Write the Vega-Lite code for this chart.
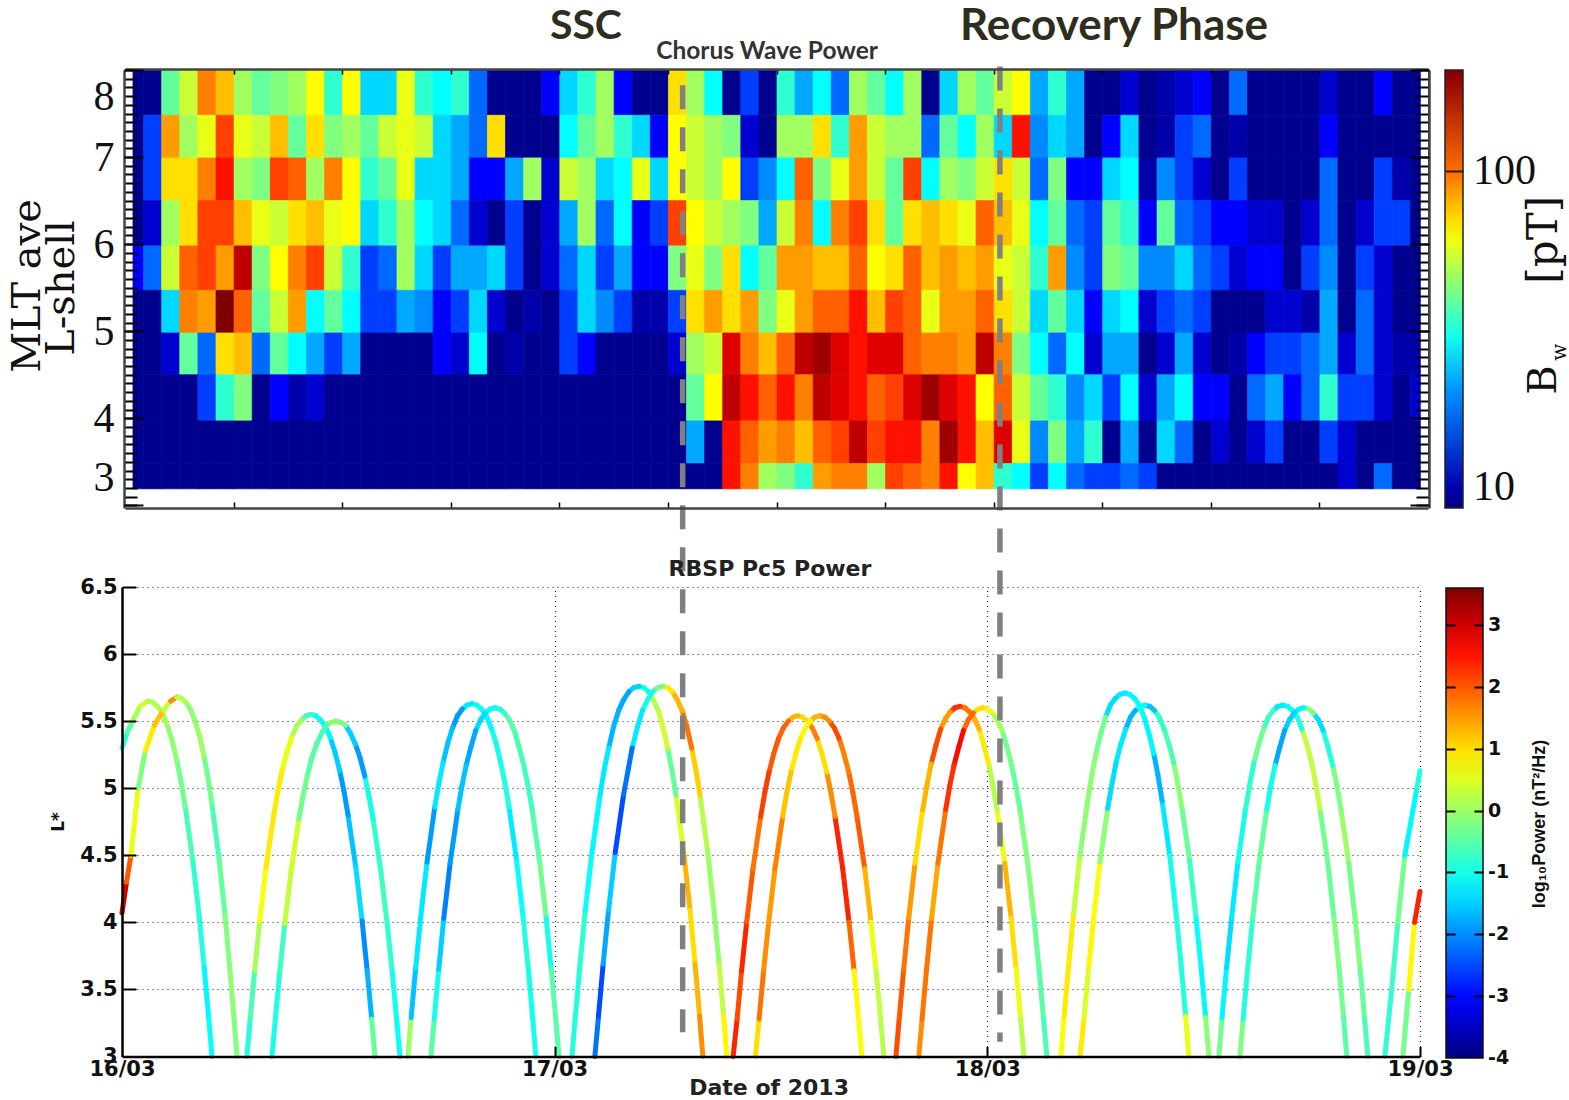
{"$schema":"https://vega.github.io/schema/vega-lite/v6.json","width":1569,"height":1100,"autosize":{"type":"none"},"padding":0,"background":"white",
"config":{"view":{"stroke":null},"axis":{"grid":false,"labels":false,"ticks":false,"domain":false,"tickColor":"#000","domainColor":"#333"}},
"resolve":{"scale":{"x":"independent","y":"independent","color":"independent"},"axis":{"x":"independent","y":"independent"},"legend":{"color":"independent"}},
"datasets":{"cells":[
{"h":0,"L":7.48,"U":8,"b":9},{"h":1,"L":7.48,"U":8,"b":9},{"h":2,"L":7.48,"U":8,"b":38.7},{"h":3,"L":7.48,"U":8,"b":53.6},{"h":4,"L":7.48,"U":8,"b":94.2},{"h":5,"L":7.48,"U":8,"b":77.6},{"h":6,"L":7.48,"U":8,"b":47},{"h":7,"L":7.48,"U":8,"b":38.7},{"h":8,"L":7.48,"U":8,"b":42.4},{"h":9,"L":7.48,"U":8,"b":47},{"h":10,"L":7.48,"U":8,"b":63.2},{"h":11,"L":7.48,"U":8,"b":33},{"h":12,"L":7.48,"U":8,"b":63.2},{"h":13,"L":7.48,"U":8,"b":25.2},{"h":14,"L":7.48,"U":8,"b":25.2},{"h":15,"L":7.48,"U":8,"b":59},{"h":16,"L":7.48,"U":8,"b":33},{"h":17,"L":7.48,"U":8,"b":28.5},{"h":18,"L":7.48,"U":8,"b":33},{"h":19,"L":7.48,"U":8,"b":17.8},{"h":20,"L":7.48,"U":8,"b":9},{"h":21,"L":7.48,"U":8,"b":9},{"h":22,"L":7.48,"U":8,"b":9},{"h":23,"L":7.48,"U":8,"b":12.8},{"h":24,"L":7.48,"U":8,"b":25.2},{"h":25,"L":7.48,"U":8,"b":33},{"h":26,"L":7.48,"U":8,"b":47},{"h":27,"L":7.48,"U":8,"b":12.8},{"h":28,"L":7.48,"U":8,"b":9},{"h":29,"L":7.48,"U":8,"b":9},{"h":30,"L":7.48,"U":8,"b":69.6},{"h":31,"L":7.48,"U":8,"b":47},{"h":32,"L":7.48,"U":8,"b":28.5},{"h":33,"L":7.48,"U":8,"b":9},{"h":34,"L":7.48,"U":8,"b":15.6},{"h":35,"L":7.48,"U":8,"b":9},{"h":36,"L":7.48,"U":8,"b":33},{"h":37,"L":7.48,"U":8,"b":21.7},{"h":38,"L":7.48,"U":8,"b":28.5},{"h":39,"L":7.48,"U":8,"b":17.8},{"h":40,"L":7.48,"U":8,"b":47},{"h":41,"L":7.48,"U":8,"b":38.7},{"h":42,"L":7.48,"U":8,"b":28.5},{"h":43,"L":7.48,"U":8,"b":47},{"h":44,"L":7.48,"U":8,"b":9},{"h":45,"L":7.48,"U":8,"b":25.2},{"h":46,"L":7.48,"U":8,"b":47},{"h":47,"L":7.48,"U":8,"b":38.7},{"h":48,"L":7.48,"U":8,"b":53.6},{"h":49,"L":7.48,"U":8,"b":63.2},{"h":50,"L":7.48,"U":8,"b":21.7},{"h":51,"L":7.48,"U":8,"b":33},{"h":52,"L":7.48,"U":8,"b":21.7},{"h":53,"L":7.48,"U":8,"b":9},{"h":54,"L":7.48,"U":8,"b":9},{"h":55,"L":7.48,"U":8,"b":11},{"h":56,"L":7.48,"U":8,"b":9},{"h":57,"L":7.48,"U":8,"b":9.8},{"h":58,"L":7.48,"U":8,"b":11},{"h":59,"L":7.48,"U":8,"b":12.8},{"h":60,"L":7.48,"U":8,"b":9},{"h":61,"L":7.48,"U":8,"b":17.8},{"h":62,"L":7.48,"U":8,"b":9},{"h":63,"L":7.48,"U":8,"b":9},{"h":64,"L":7.48,"U":8,"b":9},{"h":65,"L":7.48,"U":8,"b":9},{"h":66,"L":7.48,"U":8,"b":11},{"h":67,"L":7.48,"U":8,"b":9},{"h":68,"L":7.48,"U":8,"b":9},{"h":69,"L":7.48,"U":8,"b":12.8},{"h":70,"L":7.48,"U":8,"b":9},{"h":71,"L":7.48,"U":8,"b":9},
{"h":0,"L":6.99,"U":7.48,"b":9},{"h":1,"L":6.99,"U":7.48,"b":15.6},{"h":2,"L":6.99,"U":7.48,"b":86},{"h":3,"L":6.99,"U":7.48,"b":47},{"h":4,"L":6.99,"U":7.48,"b":59},{"h":5,"L":6.99,"U":7.48,"b":115},{"h":6,"L":6.99,"U":7.48,"b":59},{"h":7,"L":6.99,"U":7.48,"b":53.6},{"h":8,"L":6.99,"U":7.48,"b":77.6},{"h":9,"L":6.99,"U":7.48,"b":38.7},{"h":10,"L":6.99,"U":7.48,"b":69.6},{"h":11,"L":6.99,"U":7.48,"b":42.4},{"h":12,"L":6.99,"U":7.48,"b":47},{"h":13,"L":6.99,"U":7.48,"b":38.7},{"h":14,"L":6.99,"U":7.48,"b":53.6},{"h":15,"L":6.99,"U":7.48,"b":59},{"h":16,"L":6.99,"U":7.48,"b":53.6},{"h":17,"L":6.99,"U":7.48,"b":25.2},{"h":18,"L":6.99,"U":7.48,"b":21.7},{"h":19,"L":6.99,"U":7.48,"b":17.8},{"h":20,"L":6.99,"U":7.48,"b":69.6},{"h":21,"L":6.99,"U":7.48,"b":9},{"h":22,"L":6.99,"U":7.48,"b":9},{"h":23,"L":6.99,"U":7.48,"b":9},{"h":24,"L":6.99,"U":7.48,"b":28.5},{"h":25,"L":6.99,"U":7.48,"b":38.7},{"h":26,"L":6.99,"U":7.48,"b":47},{"h":27,"L":6.99,"U":7.48,"b":33},{"h":28,"L":6.99,"U":7.48,"b":25.2},{"h":29,"L":6.99,"U":7.48,"b":12.8},{"h":30,"L":6.99,"U":7.48,"b":63.2},{"h":31,"L":6.99,"U":7.48,"b":53.6},{"h":32,"L":6.99,"U":7.48,"b":47},{"h":33,"L":6.99,"U":7.48,"b":42.4},{"h":34,"L":6.99,"U":7.48,"b":11},{"h":35,"L":6.99,"U":7.48,"b":9},{"h":36,"L":6.99,"U":7.48,"b":47},{"h":37,"L":6.99,"U":7.48,"b":47},{"h":38,"L":6.99,"U":7.48,"b":69.6},{"h":39,"L":6.99,"U":7.48,"b":33},{"h":40,"L":6.99,"U":7.48,"b":86},{"h":41,"L":6.99,"U":7.48,"b":53.6},{"h":42,"L":6.99,"U":7.48,"b":47},{"h":43,"L":6.99,"U":7.48,"b":47},{"h":44,"L":6.99,"U":7.48,"b":17.8},{"h":45,"L":6.99,"U":7.48,"b":38.7},{"h":46,"L":6.99,"U":7.48,"b":28.5},{"h":47,"L":6.99,"U":7.48,"b":47},{"h":48,"L":6.99,"U":7.48,"b":25.2},{"h":49,"L":6.99,"U":7.48,"b":133},{"h":50,"L":6.99,"U":7.48,"b":19.7},{"h":51,"L":6.99,"U":7.48,"b":25.2},{"h":52,"L":6.99,"U":7.48,"b":21.7},{"h":53,"L":6.99,"U":7.48,"b":9},{"h":54,"L":6.99,"U":7.48,"b":12.8},{"h":55,"L":6.99,"U":7.48,"b":25.2},{"h":56,"L":6.99,"U":7.48,"b":9},{"h":57,"L":6.99,"U":7.48,"b":9.8},{"h":58,"L":6.99,"U":7.48,"b":15.6},{"h":59,"L":6.99,"U":7.48,"b":17.8},{"h":60,"L":6.99,"U":7.48,"b":9},{"h":61,"L":6.99,"U":7.48,"b":9.8},{"h":62,"L":6.99,"U":7.48,"b":9},{"h":63,"L":6.99,"U":7.48,"b":9},{"h":64,"L":6.99,"U":7.48,"b":9},{"h":65,"L":6.99,"U":7.48,"b":9},{"h":66,"L":6.99,"U":7.48,"b":12.8},{"h":67,"L":6.99,"U":7.48,"b":9},{"h":68,"L":6.99,"U":7.48,"b":9},{"h":69,"L":6.99,"U":7.48,"b":9},{"h":70,"L":6.99,"U":7.48,"b":9},{"h":71,"L":6.99,"U":7.48,"b":9},
{"h":0,"L":6.5,"U":6.99,"b":9},{"h":1,"L":6.5,"U":6.99,"b":15.6},{"h":2,"L":6.5,"U":6.99,"b":69.6},{"h":3,"L":6.5,"U":6.99,"b":69.6},{"h":4,"L":6.5,"U":6.99,"b":94.2},{"h":5,"L":6.5,"U":6.99,"b":133},{"h":6,"L":6.5,"U":6.99,"b":47},{"h":7,"L":6.5,"U":6.99,"b":42.4},{"h":8,"L":6.5,"U":6.99,"b":115},{"h":9,"L":6.5,"U":6.99,"b":104},{"h":10,"L":6.5,"U":6.99,"b":47},{"h":11,"L":6.5,"U":6.99,"b":94.2},{"h":12,"L":6.5,"U":6.99,"b":63.2},{"h":13,"L":6.5,"U":6.99,"b":33},{"h":14,"L":6.5,"U":6.99,"b":38.7},{"h":15,"L":6.5,"U":6.99,"b":59},{"h":16,"L":6.5,"U":6.99,"b":25.2},{"h":17,"L":6.5,"U":6.99,"b":25.2},{"h":18,"L":6.5,"U":6.99,"b":21.7},{"h":19,"L":6.5,"U":6.99,"b":12.8},{"h":20,"L":6.5,"U":6.99,"b":12.8},{"h":21,"L":6.5,"U":6.99,"b":21.7},{"h":22,"L":6.5,"U":6.99,"b":47},{"h":23,"L":6.5,"U":6.99,"b":11},{"h":24,"L":6.5,"U":6.99,"b":53.6},{"h":25,"L":6.5,"U":6.99,"b":47},{"h":26,"L":6.5,"U":6.99,"b":25.2},{"h":27,"L":6.5,"U":6.99,"b":28.5},{"h":28,"L":6.5,"U":6.99,"b":59},{"h":29,"L":6.5,"U":6.99,"b":25.2},{"h":30,"L":6.5,"U":6.99,"b":63.2},{"h":31,"L":6.5,"U":6.99,"b":53.6},{"h":32,"L":6.5,"U":6.99,"b":47},{"h":33,"L":6.5,"U":6.99,"b":63.2},{"h":34,"L":6.5,"U":6.99,"b":15.6},{"h":35,"L":6.5,"U":6.99,"b":19.7},{"h":36,"L":6.5,"U":6.99,"b":28.5},{"h":37,"L":6.5,"U":6.99,"b":104},{"h":38,"L":6.5,"U":6.99,"b":42.4},{"h":39,"L":6.5,"U":6.99,"b":59},{"h":40,"L":6.5,"U":6.99,"b":86},{"h":41,"L":6.5,"U":6.99,"b":53.6},{"h":42,"L":6.5,"U":6.99,"b":38.7},{"h":43,"L":6.5,"U":6.99,"b":115},{"h":44,"L":6.5,"U":6.99,"b":28.5},{"h":45,"L":6.5,"U":6.99,"b":47},{"h":46,"L":6.5,"U":6.99,"b":42.4},{"h":47,"L":6.5,"U":6.99,"b":53.6},{"h":48,"L":6.5,"U":6.99,"b":69.6},{"h":49,"L":6.5,"U":6.99,"b":53.6},{"h":50,"L":6.5,"U":6.99,"b":17.8},{"h":51,"L":6.5,"U":6.99,"b":42.4},{"h":52,"L":6.5,"U":6.99,"b":12.8},{"h":53,"L":6.5,"U":6.99,"b":12.8},{"h":54,"L":6.5,"U":6.99,"b":25.2},{"h":55,"L":6.5,"U":6.99,"b":28.5},{"h":56,"L":6.5,"U":6.99,"b":9.8},{"h":57,"L":6.5,"U":6.99,"b":19.7},{"h":58,"L":6.5,"U":6.99,"b":15.6},{"h":59,"L":6.5,"U":6.99,"b":11},{"h":60,"L":6.5,"U":6.99,"b":9},{"h":61,"L":6.5,"U":6.99,"b":15.6},{"h":62,"L":6.5,"U":6.99,"b":9},{"h":63,"L":6.5,"U":6.99,"b":9},{"h":64,"L":6.5,"U":6.99,"b":9},{"h":65,"L":6.5,"U":6.99,"b":9},{"h":66,"L":6.5,"U":6.99,"b":17.8},{"h":67,"L":6.5,"U":6.99,"b":9},{"h":68,"L":6.5,"U":6.99,"b":9},{"h":69,"L":6.5,"U":6.99,"b":15.6},{"h":70,"L":6.5,"U":6.99,"b":9.8},{"h":71,"L":6.5,"U":6.99,"b":9},
{"h":0,"L":5.98,"U":6.5,"b":9},{"h":1,"L":5.98,"U":6.5,"b":11},{"h":2,"L":5.98,"U":6.5,"b":47},{"h":3,"L":5.98,"U":6.5,"b":69.6},{"h":4,"L":5.98,"U":6.5,"b":115},{"h":5,"L":5.98,"U":6.5,"b":115},{"h":6,"L":5.98,"U":6.5,"b":77.6},{"h":7,"L":5.98,"U":6.5,"b":59},{"h":8,"L":5.98,"U":6.5,"b":53.6},{"h":9,"L":5.98,"U":6.5,"b":69.6},{"h":10,"L":5.98,"U":6.5,"b":77.6},{"h":11,"L":5.98,"U":6.5,"b":59},{"h":12,"L":5.98,"U":6.5,"b":63.2},{"h":13,"L":5.98,"U":6.5,"b":25.2},{"h":14,"L":5.98,"U":6.5,"b":33},{"h":15,"L":5.98,"U":6.5,"b":47},{"h":16,"L":5.98,"U":6.5,"b":28.5},{"h":17,"L":5.98,"U":6.5,"b":25.2},{"h":18,"L":5.98,"U":6.5,"b":17.8},{"h":19,"L":5.98,"U":6.5,"b":11},{"h":20,"L":5.98,"U":6.5,"b":9},{"h":21,"L":5.98,"U":6.5,"b":15.6},{"h":22,"L":5.98,"U":6.5,"b":9},{"h":23,"L":5.98,"U":6.5,"b":11},{"h":24,"L":5.98,"U":6.5,"b":21.7},{"h":25,"L":5.98,"U":6.5,"b":47},{"h":26,"L":5.98,"U":6.5,"b":17.8},{"h":27,"L":5.98,"U":6.5,"b":28.5},{"h":28,"L":5.98,"U":6.5,"b":12.8},{"h":29,"L":5.98,"U":6.5,"b":15.6},{"h":30,"L":5.98,"U":6.5,"b":115},{"h":31,"L":5.98,"U":6.5,"b":63.2},{"h":32,"L":5.98,"U":6.5,"b":53.6},{"h":33,"L":5.98,"U":6.5,"b":47},{"h":34,"L":5.98,"U":6.5,"b":42.4},{"h":35,"L":5.98,"U":6.5,"b":21.7},{"h":36,"L":5.98,"U":6.5,"b":53.6},{"h":37,"L":5.98,"U":6.5,"b":94.2},{"h":38,"L":5.98,"U":6.5,"b":28.5},{"h":39,"L":5.98,"U":6.5,"b":94.2},{"h":40,"L":5.98,"U":6.5,"b":115},{"h":41,"L":5.98,"U":6.5,"b":69.6},{"h":42,"L":5.98,"U":6.5,"b":38.7},{"h":43,"L":5.98,"U":6.5,"b":69.6},{"h":44,"L":5.98,"U":6.5,"b":77.6},{"h":45,"L":5.98,"U":6.5,"b":69.6},{"h":46,"L":5.98,"U":6.5,"b":59},{"h":47,"L":5.98,"U":6.5,"b":104},{"h":48,"L":5.98,"U":6.5,"b":77.6},{"h":49,"L":5.98,"U":6.5,"b":59},{"h":50,"L":5.98,"U":6.5,"b":28.5},{"h":51,"L":5.98,"U":6.5,"b":38.7},{"h":52,"L":5.98,"U":6.5,"b":17.8},{"h":53,"L":5.98,"U":6.5,"b":15.6},{"h":54,"L":5.98,"U":6.5,"b":38.7},{"h":55,"L":5.98,"U":6.5,"b":33},{"h":56,"L":5.98,"U":6.5,"b":12.8},{"h":57,"L":5.98,"U":6.5,"b":38.7},{"h":58,"L":5.98,"U":6.5,"b":17.8},{"h":59,"L":5.98,"U":6.5,"b":15.6},{"h":60,"L":5.98,"U":6.5,"b":12.8},{"h":61,"L":5.98,"U":6.5,"b":12.8},{"h":62,"L":5.98,"U":6.5,"b":11},{"h":63,"L":5.98,"U":6.5,"b":11},{"h":64,"L":5.98,"U":6.5,"b":9},{"h":65,"L":5.98,"U":6.5,"b":11},{"h":66,"L":5.98,"U":6.5,"b":17.8},{"h":67,"L":5.98,"U":6.5,"b":9},{"h":68,"L":5.98,"U":6.5,"b":11},{"h":69,"L":5.98,"U":6.5,"b":15.6},{"h":70,"L":5.98,"U":6.5,"b":15.6},{"h":71,"L":5.98,"U":6.5,"b":9},
{"h":0,"L":5.47,"U":5.98,"b":12.8},{"h":1,"L":5.47,"U":5.98,"b":17.8},{"h":2,"L":5.47,"U":5.98,"b":53.6},{"h":3,"L":5.47,"U":5.98,"b":104},{"h":4,"L":5.47,"U":5.98,"b":115},{"h":5,"L":5.47,"U":5.98,"b":86},{"h":6,"L":5.47,"U":5.98,"b":172},{"h":7,"L":5.47,"U":5.98,"b":42.4},{"h":8,"L":5.47,"U":5.98,"b":63.2},{"h":9,"L":5.47,"U":5.98,"b":94.2},{"h":10,"L":5.47,"U":5.98,"b":115},{"h":11,"L":5.47,"U":5.98,"b":53.6},{"h":12,"L":5.47,"U":5.98,"b":33},{"h":13,"L":5.47,"U":5.98,"b":15.6},{"h":14,"L":5.47,"U":5.98,"b":17.8},{"h":15,"L":5.47,"U":5.98,"b":47},{"h":16,"L":5.47,"U":5.98,"b":25.2},{"h":17,"L":5.47,"U":5.98,"b":15.6},{"h":18,"L":5.47,"U":5.98,"b":21.7},{"h":19,"L":5.47,"U":5.98,"b":21.7},{"h":20,"L":5.47,"U":5.98,"b":25.2},{"h":21,"L":5.47,"U":5.98,"b":15.6},{"h":22,"L":5.47,"U":5.98,"b":9},{"h":23,"L":5.47,"U":5.98,"b":11},{"h":24,"L":5.47,"U":5.98,"b":17.8},{"h":25,"L":5.47,"U":5.98,"b":25.2},{"h":26,"L":5.47,"U":5.98,"b":15.6},{"h":27,"L":5.47,"U":5.98,"b":21.7},{"h":28,"L":5.47,"U":5.98,"b":12.8},{"h":29,"L":5.47,"U":5.98,"b":12.8},{"h":30,"L":5.47,"U":5.98,"b":42.4},{"h":31,"L":5.47,"U":5.98,"b":59},{"h":32,"L":5.47,"U":5.98,"b":42.4},{"h":33,"L":5.47,"U":5.98,"b":69.6},{"h":34,"L":5.47,"U":5.98,"b":28.5},{"h":35,"L":5.47,"U":5.98,"b":38.7},{"h":36,"L":5.47,"U":5.98,"b":86},{"h":37,"L":5.47,"U":5.98,"b":86},{"h":38,"L":5.47,"U":5.98,"b":77.6},{"h":39,"L":5.47,"U":5.98,"b":77.6},{"h":40,"L":5.47,"U":5.98,"b":104},{"h":41,"L":5.47,"U":5.98,"b":63.2},{"h":42,"L":5.47,"U":5.98,"b":69.6},{"h":43,"L":5.47,"U":5.98,"b":104},{"h":44,"L":5.47,"U":5.98,"b":77.6},{"h":45,"L":5.47,"U":5.98,"b":86},{"h":46,"L":5.47,"U":5.98,"b":77.6},{"h":47,"L":5.47,"U":5.98,"b":86},{"h":48,"L":5.47,"U":5.98,"b":59},{"h":49,"L":5.47,"U":5.98,"b":53.6},{"h":50,"L":5.47,"U":5.98,"b":33},{"h":51,"L":5.47,"U":5.98,"b":86},{"h":52,"L":5.47,"U":5.98,"b":19.7},{"h":53,"L":5.47,"U":5.98,"b":15.6},{"h":54,"L":5.47,"U":5.98,"b":42.4},{"h":55,"L":5.47,"U":5.98,"b":38.7},{"h":56,"L":5.47,"U":5.98,"b":19.7},{"h":57,"L":5.47,"U":5.98,"b":19.7},{"h":58,"L":5.47,"U":5.98,"b":25.2},{"h":59,"L":5.47,"U":5.98,"b":17.8},{"h":60,"L":5.47,"U":5.98,"b":15.6},{"h":61,"L":5.47,"U":5.98,"b":11},{"h":62,"L":5.47,"U":5.98,"b":12.8},{"h":63,"L":5.47,"U":5.98,"b":12.8},{"h":64,"L":5.47,"U":5.98,"b":9},{"h":65,"L":5.47,"U":5.98,"b":15.6},{"h":66,"L":5.47,"U":5.98,"b":19.7},{"h":67,"L":5.47,"U":5.98,"b":9},{"h":68,"L":5.47,"U":5.98,"b":15.6},{"h":69,"L":5.47,"U":5.98,"b":11},{"h":70,"L":5.47,"U":5.98,"b":9},{"h":71,"L":5.47,"U":5.98,"b":9},
{"h":0,"L":4.98,"U":5.47,"b":9},{"h":1,"L":4.98,"U":5.47,"b":9},{"h":2,"L":4.98,"U":5.47,"b":25.2},{"h":3,"L":4.98,"U":5.47,"b":94.2},{"h":4,"L":4.98,"U":5.47,"b":86},{"h":5,"L":4.98,"U":5.47,"b":209},{"h":6,"L":4.98,"U":5.47,"b":104},{"h":7,"L":4.98,"U":5.47,"b":38.7},{"h":8,"L":4.98,"U":5.47,"b":53.6},{"h":9,"L":4.98,"U":5.47,"b":86},{"h":10,"L":4.98,"U":5.47,"b":28.5},{"h":11,"L":4.98,"U":5.47,"b":38.7},{"h":12,"L":4.98,"U":5.47,"b":28.5},{"h":13,"L":4.98,"U":5.47,"b":15.6},{"h":14,"L":4.98,"U":5.47,"b":15.6},{"h":15,"L":4.98,"U":5.47,"b":21.7},{"h":16,"L":4.98,"U":5.47,"b":19.7},{"h":17,"L":4.98,"U":5.47,"b":12.8},{"h":18,"L":4.98,"U":5.47,"b":15.6},{"h":19,"L":4.98,"U":5.47,"b":25.2},{"h":20,"L":4.98,"U":5.47,"b":11},{"h":21,"L":4.98,"U":5.47,"b":9},{"h":22,"L":4.98,"U":5.47,"b":9.8},{"h":23,"L":4.98,"U":5.47,"b":9},{"h":24,"L":4.98,"U":5.47,"b":15.6},{"h":25,"L":4.98,"U":5.47,"b":25.2},{"h":26,"L":4.98,"U":5.47,"b":19.7},{"h":27,"L":4.98,"U":5.47,"b":15.6},{"h":28,"L":4.98,"U":5.47,"b":9.8},{"h":29,"L":4.98,"U":5.47,"b":9.8},{"h":30,"L":4.98,"U":5.47,"b":15.6},{"h":31,"L":4.98,"U":5.47,"b":69.6},{"h":32,"L":4.98,"U":5.47,"b":86},{"h":33,"L":4.98,"U":5.47,"b":69.6},{"h":34,"L":4.98,"U":5.47,"b":86},{"h":35,"L":4.98,"U":5.47,"b":42.4},{"h":36,"L":4.98,"U":5.47,"b":59},{"h":37,"L":4.98,"U":5.47,"b":86},{"h":38,"L":4.98,"U":5.47,"b":104},{"h":39,"L":4.98,"U":5.47,"b":104},{"h":40,"L":4.98,"U":5.47,"b":133},{"h":41,"L":4.98,"U":5.47,"b":77.6},{"h":42,"L":4.98,"U":5.47,"b":115},{"h":43,"L":4.98,"U":5.47,"b":104},{"h":44,"L":4.98,"U":5.47,"b":59},{"h":45,"L":4.98,"U":5.47,"b":86},{"h":46,"L":4.98,"U":5.47,"b":86},{"h":47,"L":4.98,"U":5.47,"b":104},{"h":48,"L":4.98,"U":5.47,"b":69.6},{"h":49,"L":4.98,"U":5.47,"b":53.6},{"h":50,"L":4.98,"U":5.47,"b":25.2},{"h":51,"L":4.98,"U":5.47,"b":38.7},{"h":52,"L":4.98,"U":5.47,"b":25.2},{"h":53,"L":4.98,"U":5.47,"b":12.8},{"h":54,"L":4.98,"U":5.47,"b":25.2},{"h":55,"L":4.98,"U":5.47,"b":28.5},{"h":56,"L":4.98,"U":5.47,"b":11},{"h":57,"L":4.98,"U":5.47,"b":15.6},{"h":58,"L":4.98,"U":5.47,"b":17.8},{"h":59,"L":4.98,"U":5.47,"b":15.6},{"h":60,"L":4.98,"U":5.47,"b":9},{"h":61,"L":4.98,"U":5.47,"b":9},{"h":62,"L":4.98,"U":5.47,"b":9},{"h":63,"L":4.98,"U":5.47,"b":11},{"h":64,"L":4.98,"U":5.47,"b":11},{"h":65,"L":4.98,"U":5.47,"b":9.8},{"h":66,"L":4.98,"U":5.47,"b":21.7},{"h":67,"L":4.98,"U":5.47,"b":9},{"h":68,"L":4.98,"U":5.47,"b":17.8},{"h":69,"L":4.98,"U":5.47,"b":11},{"h":70,"L":4.98,"U":5.47,"b":9},{"h":71,"L":4.98,"U":5.47,"b":9},
{"h":0,"L":4.5,"U":4.98,"b":9},{"h":1,"L":4.5,"U":4.98,"b":9},{"h":2,"L":4.5,"U":4.98,"b":11},{"h":3,"L":4.5,"U":4.98,"b":38.7},{"h":4,"L":4.5,"U":4.98,"b":17.8},{"h":5,"L":4.5,"U":4.98,"b":69.6},{"h":6,"L":4.5,"U":4.98,"b":77.6},{"h":7,"L":4.5,"U":4.98,"b":17.8},{"h":8,"L":4.5,"U":4.98,"b":38.7},{"h":9,"L":4.5,"U":4.98,"b":28.5},{"h":10,"L":4.5,"U":4.98,"b":21.7},{"h":11,"L":4.5,"U":4.98,"b":15.6},{"h":12,"L":4.5,"U":4.98,"b":21.7},{"h":13,"L":4.5,"U":4.98,"b":9},{"h":14,"L":4.5,"U":4.98,"b":9},{"h":15,"L":4.5,"U":4.98,"b":9},{"h":16,"L":4.5,"U":4.98,"b":9},{"h":17,"L":4.5,"U":4.98,"b":12.8},{"h":18,"L":4.5,"U":4.98,"b":11},{"h":19,"L":4.5,"U":4.98,"b":28.5},{"h":20,"L":4.5,"U":4.98,"b":9},{"h":21,"L":4.5,"U":4.98,"b":9.8},{"h":22,"L":4.5,"U":4.98,"b":9},{"h":23,"L":4.5,"U":4.98,"b":9},{"h":24,"L":4.5,"U":4.98,"b":15.6},{"h":25,"L":4.5,"U":4.98,"b":12.8},{"h":26,"L":4.5,"U":4.98,"b":9},{"h":27,"L":4.5,"U":4.98,"b":9},{"h":28,"L":4.5,"U":4.98,"b":9},{"h":29,"L":4.5,"U":4.98,"b":9},{"h":30,"L":4.5,"U":4.98,"b":11},{"h":31,"L":4.5,"U":4.98,"b":47},{"h":32,"L":4.5,"U":4.98,"b":53.6},{"h":33,"L":4.5,"U":4.98,"b":155},{"h":34,"L":4.5,"U":4.98,"b":94.2},{"h":35,"L":4.5,"U":4.98,"b":77.6},{"h":36,"L":4.5,"U":4.98,"b":104},{"h":37,"L":4.5,"U":4.98,"b":172},{"h":38,"L":4.5,"U":4.98,"b":190},{"h":39,"L":4.5,"U":4.98,"b":155},{"h":40,"L":4.5,"U":4.98,"b":133},{"h":41,"L":4.5,"U":4.98,"b":155},{"h":42,"L":4.5,"U":4.98,"b":155},{"h":43,"L":4.5,"U":4.98,"b":104},{"h":44,"L":4.5,"U":4.98,"b":94.2},{"h":45,"L":4.5,"U":4.98,"b":94.2},{"h":46,"L":4.5,"U":4.98,"b":86},{"h":47,"L":4.5,"U":4.98,"b":172},{"h":48,"L":4.5,"U":4.98,"b":94.2},{"h":49,"L":4.5,"U":4.98,"b":42.4},{"h":50,"L":4.5,"U":4.98,"b":28.5},{"h":51,"L":4.5,"U":4.98,"b":17.8},{"h":52,"L":4.5,"U":4.98,"b":28.5},{"h":53,"L":4.5,"U":4.98,"b":11},{"h":54,"L":4.5,"U":4.98,"b":21.7},{"h":55,"L":4.5,"U":4.98,"b":21.7},{"h":56,"L":4.5,"U":4.98,"b":9},{"h":57,"L":4.5,"U":4.98,"b":11},{"h":58,"L":4.5,"U":4.98,"b":21.7},{"h":59,"L":4.5,"U":4.98,"b":11},{"h":60,"L":4.5,"U":4.98,"b":9},{"h":61,"L":4.5,"U":4.98,"b":9.8},{"h":62,"L":4.5,"U":4.98,"b":12.8},{"h":63,"L":4.5,"U":4.98,"b":15.6},{"h":64,"L":4.5,"U":4.98,"b":15.6},{"h":65,"L":4.5,"U":4.98,"b":17.8},{"h":66,"L":4.5,"U":4.98,"b":21.7},{"h":67,"L":4.5,"U":4.98,"b":11},{"h":68,"L":4.5,"U":4.98,"b":17.8},{"h":69,"L":4.5,"U":4.98,"b":11},{"h":70,"L":4.5,"U":4.98,"b":9.8},{"h":71,"L":4.5,"U":4.98,"b":9.8},
{"h":0,"L":3.97,"U":4.5,"b":9},{"h":1,"L":3.97,"U":4.5,"b":9},{"h":2,"L":3.97,"U":4.5,"b":9},{"h":3,"L":3.97,"U":4.5,"b":9},{"h":4,"L":3.97,"U":4.5,"b":15.6},{"h":5,"L":3.97,"U":4.5,"b":33},{"h":6,"L":3.97,"U":4.5,"b":42.4},{"h":7,"L":3.97,"U":4.5,"b":9},{"h":8,"L":3.97,"U":4.5,"b":12.8},{"h":9,"L":3.97,"U":4.5,"b":9.8},{"h":10,"L":3.97,"U":4.5,"b":11},{"h":11,"L":3.97,"U":4.5,"b":9},{"h":12,"L":3.97,"U":4.5,"b":9},{"h":13,"L":3.97,"U":4.5,"b":9},{"h":14,"L":3.97,"U":4.5,"b":9},{"h":15,"L":3.97,"U":4.5,"b":9},{"h":16,"L":3.97,"U":4.5,"b":9},{"h":17,"L":3.97,"U":4.5,"b":9},{"h":18,"L":3.97,"U":4.5,"b":9},{"h":19,"L":3.97,"U":4.5,"b":9},{"h":20,"L":3.97,"U":4.5,"b":9},{"h":21,"L":3.97,"U":4.5,"b":9},{"h":22,"L":3.97,"U":4.5,"b":9},{"h":23,"L":3.97,"U":4.5,"b":9},{"h":24,"L":3.97,"U":4.5,"b":9},{"h":25,"L":3.97,"U":4.5,"b":9},{"h":26,"L":3.97,"U":4.5,"b":9},{"h":27,"L":3.97,"U":4.5,"b":9},{"h":28,"L":3.97,"U":4.5,"b":9},{"h":29,"L":3.97,"U":4.5,"b":9},{"h":30,"L":3.97,"U":4.5,"b":9},{"h":31,"L":3.97,"U":4.5,"b":38.7},{"h":32,"L":3.97,"U":4.5,"b":63.2},{"h":33,"L":3.97,"U":4.5,"b":172},{"h":34,"L":3.97,"U":4.5,"b":133},{"h":35,"L":3.97,"U":4.5,"b":104},{"h":36,"L":3.97,"U":4.5,"b":133},{"h":37,"L":3.97,"U":4.5,"b":94.2},{"h":38,"L":3.97,"U":4.5,"b":172},{"h":39,"L":3.97,"U":4.5,"b":155},{"h":40,"L":3.97,"U":4.5,"b":133},{"h":41,"L":3.97,"U":4.5,"b":104},{"h":42,"L":3.97,"U":4.5,"b":115},{"h":43,"L":3.97,"U":4.5,"b":155},{"h":44,"L":3.97,"U":4.5,"b":190},{"h":45,"L":3.97,"U":4.5,"b":155},{"h":46,"L":3.97,"U":4.5,"b":133},{"h":47,"L":3.97,"U":4.5,"b":63.2},{"h":48,"L":3.97,"U":4.5,"b":104},{"h":49,"L":3.97,"U":4.5,"b":53.6},{"h":50,"L":3.97,"U":4.5,"b":38.7},{"h":51,"L":3.97,"U":4.5,"b":33},{"h":52,"L":3.97,"U":4.5,"b":19.7},{"h":53,"L":3.97,"U":4.5,"b":25.2},{"h":54,"L":3.97,"U":4.5,"b":15.6},{"h":55,"L":3.97,"U":4.5,"b":28.5},{"h":56,"L":3.97,"U":4.5,"b":11},{"h":57,"L":3.97,"U":4.5,"b":21.7},{"h":58,"L":3.97,"U":4.5,"b":28.5},{"h":59,"L":3.97,"U":4.5,"b":12.8},{"h":60,"L":3.97,"U":4.5,"b":12.8},{"h":61,"L":3.97,"U":4.5,"b":9},{"h":62,"L":3.97,"U":4.5,"b":17.8},{"h":63,"L":3.97,"U":4.5,"b":21.7},{"h":64,"L":3.97,"U":4.5,"b":12.8},{"h":65,"L":3.97,"U":4.5,"b":17.8},{"h":66,"L":3.97,"U":4.5,"b":33},{"h":67,"L":3.97,"U":4.5,"b":15.6},{"h":68,"L":3.97,"U":4.5,"b":15.6},{"h":69,"L":3.97,"U":4.5,"b":11},{"h":70,"L":3.97,"U":4.5,"b":9},{"h":71,"L":3.97,"U":4.5,"b":11},
{"h":0,"L":3.48,"U":3.97,"b":9},{"h":1,"L":3.48,"U":3.97,"b":9},{"h":2,"L":3.48,"U":3.97,"b":9},{"h":3,"L":3.48,"U":3.97,"b":9},{"h":4,"L":3.48,"U":3.97,"b":9},{"h":5,"L":3.48,"U":3.97,"b":9},{"h":6,"L":3.48,"U":3.97,"b":9},{"h":7,"L":3.48,"U":3.97,"b":9},{"h":8,"L":3.48,"U":3.97,"b":9},{"h":9,"L":3.48,"U":3.97,"b":9},{"h":10,"L":3.48,"U":3.97,"b":9},{"h":11,"L":3.48,"U":3.97,"b":9},{"h":12,"L":3.48,"U":3.97,"b":9},{"h":13,"L":3.48,"U":3.97,"b":9},{"h":14,"L":3.48,"U":3.97,"b":9},{"h":15,"L":3.48,"U":3.97,"b":9},{"h":16,"L":3.48,"U":3.97,"b":9},{"h":17,"L":3.48,"U":3.97,"b":9},{"h":18,"L":3.48,"U":3.97,"b":9},{"h":19,"L":3.48,"U":3.97,"b":9},{"h":20,"L":3.48,"U":3.97,"b":9},{"h":21,"L":3.48,"U":3.97,"b":9},{"h":22,"L":3.48,"U":3.97,"b":9},{"h":23,"L":3.48,"U":3.97,"b":9},{"h":24,"L":3.48,"U":3.97,"b":9},{"h":25,"L":3.48,"U":3.97,"b":9},{"h":26,"L":3.48,"U":3.97,"b":9},{"h":27,"L":3.48,"U":3.97,"b":9},{"h":28,"L":3.48,"U":3.97,"b":9},{"h":29,"L":3.48,"U":3.97,"b":9},{"h":30,"L":3.48,"U":3.97,"b":9},{"h":31,"L":3.48,"U":3.97,"b":21.7},{"h":32,"L":3.48,"U":3.97,"b":9},{"h":33,"L":3.48,"U":3.97,"b":133},{"h":34,"L":3.48,"U":3.97,"b":104},{"h":35,"L":3.48,"U":3.97,"b":86},{"h":36,"L":3.48,"U":3.97,"b":94.2},{"h":37,"L":3.48,"U":3.97,"b":77.6},{"h":38,"L":3.48,"U":3.97,"b":104},{"h":39,"L":3.48,"U":3.97,"b":115},{"h":40,"L":3.48,"U":3.97,"b":172},{"h":41,"L":3.48,"U":3.97,"b":115},{"h":42,"L":3.48,"U":3.97,"b":133},{"h":43,"L":3.48,"U":3.97,"b":133},{"h":44,"L":3.48,"U":3.97,"b":94.2},{"h":45,"L":3.48,"U":3.97,"b":190},{"h":46,"L":3.48,"U":3.97,"b":133},{"h":47,"L":3.48,"U":3.97,"b":77.6},{"h":48,"L":3.48,"U":3.97,"b":155},{"h":49,"L":3.48,"U":3.97,"b":59},{"h":50,"L":3.48,"U":3.97,"b":19.7},{"h":51,"L":3.48,"U":3.97,"b":42.4},{"h":52,"L":3.48,"U":3.97,"b":21.7},{"h":53,"L":3.48,"U":3.97,"b":33},{"h":54,"L":3.48,"U":3.97,"b":9},{"h":55,"L":3.48,"U":3.97,"b":21.7},{"h":56,"L":3.48,"U":3.97,"b":9},{"h":57,"L":3.48,"U":3.97,"b":25.2},{"h":58,"L":3.48,"U":3.97,"b":17.8},{"h":59,"L":3.48,"U":3.97,"b":9},{"h":60,"L":3.48,"U":3.97,"b":11},{"h":61,"L":3.48,"U":3.97,"b":9},{"h":62,"L":3.48,"U":3.97,"b":11},{"h":63,"L":3.48,"U":3.97,"b":15.6},{"h":64,"L":3.48,"U":3.97,"b":9},{"h":65,"L":3.48,"U":3.97,"b":9},{"h":66,"L":3.48,"U":3.97,"b":15.6},{"h":67,"L":3.48,"U":3.97,"b":11},{"h":68,"L":3.48,"U":3.97,"b":9},{"h":69,"L":3.48,"U":3.97,"b":9},{"h":70,"L":3.48,"U":3.97,"b":9},{"h":71,"L":3.48,"U":3.97,"b":9},
{"h":0,"L":3.19,"U":3.48,"b":9},{"h":1,"L":3.19,"U":3.48,"b":9},{"h":2,"L":3.19,"U":3.48,"b":9},{"h":3,"L":3.19,"U":3.48,"b":9},{"h":4,"L":3.19,"U":3.48,"b":9},{"h":5,"L":3.19,"U":3.48,"b":9},{"h":6,"L":3.19,"U":3.48,"b":9},{"h":7,"L":3.19,"U":3.48,"b":9},{"h":8,"L":3.19,"U":3.48,"b":9},{"h":9,"L":3.19,"U":3.48,"b":9},{"h":10,"L":3.19,"U":3.48,"b":9},{"h":11,"L":3.19,"U":3.48,"b":9},{"h":12,"L":3.19,"U":3.48,"b":9},{"h":13,"L":3.19,"U":3.48,"b":9},{"h":14,"L":3.19,"U":3.48,"b":9},{"h":15,"L":3.19,"U":3.48,"b":9},{"h":16,"L":3.19,"U":3.48,"b":9},{"h":17,"L":3.19,"U":3.48,"b":9},{"h":18,"L":3.19,"U":3.48,"b":9},{"h":19,"L":3.19,"U":3.48,"b":9},{"h":20,"L":3.19,"U":3.48,"b":9},{"h":21,"L":3.19,"U":3.48,"b":9},{"h":22,"L":3.19,"U":3.48,"b":9},{"h":23,"L":3.19,"U":3.48,"b":9},{"h":24,"L":3.19,"U":3.48,"b":9},{"h":25,"L":3.19,"U":3.48,"b":9},{"h":26,"L":3.19,"U":3.48,"b":9},{"h":27,"L":3.19,"U":3.48,"b":9},{"h":28,"L":3.19,"U":3.48,"b":9},{"h":29,"L":3.19,"U":3.48,"b":9},{"h":30,"L":3.19,"U":3.48,"b":9},{"h":31,"L":3.19,"U":3.48,"b":9},{"h":32,"L":3.19,"U":3.48,"b":9},{"h":33,"L":3.19,"U":3.48,"b":133},{"h":34,"L":3.19,"U":3.48,"b":94.2},{"h":35,"L":3.19,"U":3.48,"b":47},{"h":36,"L":3.19,"U":3.48,"b":42.4},{"h":37,"L":3.19,"U":3.48,"b":33},{"h":38,"L":3.19,"U":3.48,"b":86},{"h":39,"L":3.19,"U":3.48,"b":94.2},{"h":40,"L":3.19,"U":3.48,"b":94.2},{"h":41,"L":3.19,"U":3.48,"b":47},{"h":42,"L":3.19,"U":3.48,"b":115},{"h":43,"L":3.19,"U":3.48,"b":104},{"h":44,"L":3.19,"U":3.48,"b":94.2},{"h":45,"L":3.19,"U":3.48,"b":133},{"h":46,"L":3.19,"U":3.48,"b":63.2},{"h":47,"L":3.19,"U":3.48,"b":77.6},{"h":48,"L":3.19,"U":3.48,"b":33},{"h":49,"L":3.19,"U":3.48,"b":28.5},{"h":50,"L":3.19,"U":3.48,"b":15.6},{"h":51,"L":3.19,"U":3.48,"b":28.5},{"h":52,"L":3.19,"U":3.48,"b":17.8},{"h":53,"L":3.19,"U":3.48,"b":15.6},{"h":54,"L":3.19,"U":3.48,"b":15.6},{"h":55,"L":3.19,"U":3.48,"b":17.8},{"h":56,"L":3.19,"U":3.48,"b":15.6},{"h":57,"L":3.19,"U":3.48,"b":9},{"h":58,"L":3.19,"U":3.48,"b":9},{"h":59,"L":3.19,"U":3.48,"b":9},{"h":60,"L":3.19,"U":3.48,"b":9},{"h":61,"L":3.19,"U":3.48,"b":9},{"h":62,"L":3.19,"U":3.48,"b":9},{"h":63,"L":3.19,"U":3.48,"b":9},{"h":64,"L":3.19,"U":3.48,"b":9},{"h":65,"L":3.19,"U":3.48,"b":9},{"h":66,"L":3.19,"U":3.48,"b":9},{"h":67,"L":3.19,"U":3.48,"b":11},{"h":68,"L":3.19,"U":3.48,"b":9},{"h":69,"L":3.19,"U":3.48,"b":17.8},{"h":70,"L":3.19,"U":3.48,"b":9},{"h":71,"L":3.19,"U":3.48,"b":9}
],
"arcs":[
{"a":"A1","t":0,"L":5.3,"p":-0.8},{"a":"A1","t":0.3,"L":5.42,"p":-0.5},{"a":"A1","t":0.6,"L":5.5,"p":0.1},{"a":"A1","t":1,"L":5.61,"p":0.4},{"a":"A1","t":1.44,"L":5.65,"p":0.2},{"a":"A1","t":1.97,"L":5.61,"p":0.1},{"a":"A1","t":2.51,"L":5.47,"p":-0.1},{"a":"A1","t":3.04,"L":5.21,"p":-0.3},{"a":"A1","t":3.5,"L":4.87,"p":-0.6},{"a":"A1","t":3.93,"L":4.46,"p":-0.8},{"a":"A1","t":4.28,"L":4.05,"p":-0.9},{"a":"A1","t":4.56,"L":3.66,"p":-1.2},{"a":"A1","t":4.81,"L":3.29,"p":-1.1},{"a":"A1","t":4.99,"L":3,"p":-1.1},{"a":"A1","t":1.71,"L":5.64,"p":0.2},{"a":"A1","t":2.24,"L":5.56,"p":0.1},{"a":"A1","t":2.77,"L":5.36,"p":-0.1},{"a":"A1","t":3.27,"L":5.05,"p":-0.3},
{"a":"B1","t":0,"L":4.07,"p":3},{"a":"B1","t":0.25,"L":4.3,"p":2},{"a":"B1","t":0.5,"L":4.5,"p":0.6},{"a":"B1","t":0.9,"L":5,"p":-0.2},{"a":"B1","t":1.3,"L":5.28,"p":0.9},{"a":"B1","t":1.8,"L":5.47,"p":1.2},{"a":"B1","t":2.3,"L":5.58,"p":0.3},{"a":"B1","t":2.7,"L":5.65,"p":1.6},{"a":"B1","t":3.05,"L":5.68,"p":0.2},{"a":"B1","t":3.55,"L":5.64,"p":-0.1},{"a":"B1","t":4.05,"L":5.5,"p":0},{"a":"B1","t":4.55,"L":5.24,"p":-0.3},{"a":"B1","t":4.98,"L":4.89,"p":-0.6},{"a":"B1","t":5.38,"L":4.48,"p":-0.4},{"a":"B1","t":5.71,"L":4.06,"p":-0.2},{"a":"B1","t":5.97,"L":3.67,"p":-0.1},{"a":"B1","t":6.21,"L":3.29,"p":-0.2},{"a":"B1","t":6.38,"L":3,"p":-0.2},{"a":"B1","t":3.3,"L":5.67,"p":0.2},{"a":"B1","t":3.8,"L":5.59,"p":-0.1},{"a":"B1","t":4.3,"L":5.39,"p":0},{"a":"B1","t":4.77,"L":5.08,"p":-0.3},
{"a":"A2","t":6.93,"L":3,"p":-0.9},{"a":"A2","t":7.11,"L":3.28,"p":-0.6},{"a":"A2","t":7.36,"L":3.64,"p":0.1},{"a":"A2","t":7.64,"L":4.01,"p":0.7},{"a":"A2","t":7.99,"L":4.41,"p":0.9},{"a":"A2","t":8.42,"L":4.8,"p":0.9},{"a":"A2","t":8.88,"L":5.13,"p":0.6},{"a":"A2","t":9.41,"L":5.38,"p":0.1},{"a":"A2","t":9.95,"L":5.51,"p":-0.6},{"a":"A2","t":10.48,"L":5.55,"p":-1.1},{"a":"A2","t":11.01,"L":5.51,"p":-1.2},{"a":"A2","t":11.55,"L":5.38,"p":-1.5},{"a":"A2","t":12.08,"L":5.13,"p":-1.9},{"a":"A2","t":12.54,"L":4.8,"p":-1.6},{"a":"A2","t":12.97,"L":4.41,"p":-1.4},{"a":"A2","t":13.32,"L":4.01,"p":-2},{"a":"A2","t":13.6,"L":3.64,"p":-1.7},{"a":"A2","t":13.85,"L":3.28,"p":-0.4},{"a":"A2","t":14.03,"L":3,"p":-0.4},{"a":"A2","t":8.65,"L":4.98,"p":0.9},{"a":"A2","t":9.15,"L":5.27,"p":0.6},{"a":"A2","t":9.68,"L":5.46,"p":0.1},{"a":"A2","t":10.21,"L":5.54,"p":-0.6},{"a":"A2","t":10.75,"L":5.54,"p":-1.1},{"a":"A2","t":11.28,"L":5.46,"p":-1.2},{"a":"A2","t":11.81,"L":5.27,"p":-1.5},{"a":"A2","t":12.31,"L":4.98,"p":-1.9},
{"a":"B2","t":8.32,"L":3,"p":-1},{"a":"B2","t":8.5,"L":3.27,"p":-0.9},{"a":"B2","t":8.75,"L":3.63,"p":-0.7},{"a":"B2","t":9.03,"L":3.99,"p":0.3},{"a":"B2","t":9.38,"L":4.38,"p":0.4},{"a":"B2","t":9.81,"L":4.77,"p":-0.3},{"a":"B2","t":10.27,"L":5.09,"p":-0.5},{"a":"B2","t":10.8,"L":5.33,"p":-0.6},{"a":"B2","t":11.34,"L":5.47,"p":-0.1},{"a":"B2","t":11.87,"L":5.5,"p":-0.2},{"a":"B2","t":12.4,"L":5.47,"p":-1.5},{"a":"B2","t":12.94,"L":5.33,"p":-1.9},{"a":"B2","t":13.47,"L":5.09,"p":-1},{"a":"B2","t":13.93,"L":4.77,"p":-0.8},{"a":"B2","t":14.36,"L":4.38,"p":-0.7},{"a":"B2","t":14.71,"L":3.99,"p":-0.8},{"a":"B2","t":14.99,"L":3.63,"p":-1},{"a":"B2","t":15.24,"L":3.27,"p":-1.1},{"a":"B2","t":15.42,"L":3,"p":-1.1},{"a":"B2","t":10.04,"L":4.94,"p":-0.3},{"a":"B2","t":10.54,"L":5.23,"p":-0.5},{"a":"B2","t":11.07,"L":5.41,"p":-0.6},{"a":"B2","t":11.6,"L":5.49,"p":-0.1},{"a":"B2","t":12.14,"L":5.49,"p":-0.2},{"a":"B2","t":12.67,"L":5.41,"p":-1.5},{"a":"B2","t":13.2,"L":5.23,"p":-1.9},{"a":"B2","t":13.7,"L":4.94,"p":-1},
{"a":"A3","t":15.86,"L":3,"p":0},{"a":"A3","t":16.04,"L":3.29,"p":-1.6},{"a":"A3","t":16.29,"L":3.66,"p":-1.3},{"a":"A3","t":16.57,"L":4.04,"p":-1.3},{"a":"A3","t":16.92,"L":4.45,"p":-1.9},{"a":"A3","t":17.35,"L":4.86,"p":-1.3},{"a":"A3","t":17.81,"L":5.19,"p":-1.6},{"a":"A3","t":18.34,"L":5.45,"p":-1.9},{"a":"A3","t":18.88,"L":5.59,"p":-1.3},{"a":"A3","t":19.41,"L":5.63,"p":-1.1},{"a":"A3","t":19.94,"L":5.59,"p":-1.2},{"a":"A3","t":20.48,"L":5.45,"p":-1},{"a":"A3","t":21.01,"L":5.19,"p":-0.9},{"a":"A3","t":21.47,"L":4.86,"p":-1.3},{"a":"A3","t":21.9,"L":4.45,"p":-1.1},{"a":"A3","t":22.25,"L":4.04,"p":-0.9},{"a":"A3","t":22.53,"L":3.66,"p":-1},{"a":"A3","t":22.78,"L":3.29,"p":-1},{"a":"A3","t":22.96,"L":3,"p":-1},{"a":"A3","t":17.58,"L":5.04,"p":-1.3},{"a":"A3","t":18.08,"L":5.34,"p":-1.6},{"a":"A3","t":18.61,"L":5.54,"p":-1.9},{"a":"A3","t":19.14,"L":5.62,"p":-1.3},{"a":"A3","t":19.68,"L":5.62,"p":-1.1},{"a":"A3","t":20.21,"L":5.54,"p":-1.2},{"a":"A3","t":20.74,"L":5.34,"p":-1},{"a":"A3","t":21.24,"L":5.04,"p":-0.9},
{"a":"B3","t":17.14,"L":3,"p":-0.5},{"a":"B3","t":17.32,"L":3.28,"p":-1},{"a":"B3","t":17.57,"L":3.65,"p":-1.5},{"a":"B3","t":17.85,"L":4.03,"p":-2.1},{"a":"B3","t":18.2,"L":4.44,"p":-1.9},{"a":"B3","t":18.63,"L":4.84,"p":-1.6},{"a":"B3","t":19.09,"L":5.17,"p":-1.8},{"a":"B3","t":19.62,"L":5.43,"p":-1.4},{"a":"B3","t":20.16,"L":5.56,"p":-1.1},{"a":"B3","t":20.69,"L":5.6,"p":-0.9},{"a":"B3","t":21.22,"L":5.56,"p":-0.5},{"a":"B3","t":21.76,"L":5.43,"p":-0.6},{"a":"B3","t":22.29,"L":5.17,"p":-0.7},{"a":"B3","t":22.75,"L":4.84,"p":-0.5},{"a":"B3","t":23.18,"L":4.44,"p":-0.3},{"a":"B3","t":23.53,"L":4.03,"p":-1},{"a":"B3","t":23.81,"L":3.65,"p":-0.5},{"a":"B3","t":24.06,"L":3.28,"p":-0.5},{"a":"B3","t":24.24,"L":3,"p":-0.5},{"a":"B3","t":18.86,"L":5.02,"p":-1.6},{"a":"B3","t":19.36,"L":5.31,"p":-1.8},{"a":"B3","t":19.89,"L":5.51,"p":-1.4},{"a":"B3","t":20.42,"L":5.59,"p":-1.1},{"a":"B3","t":20.96,"L":5.59,"p":-0.9},{"a":"B3","t":21.49,"L":5.51,"p":-0.5},{"a":"B3","t":22.02,"L":5.31,"p":-0.6},{"a":"B3","t":22.52,"L":5.02,"p":-0.7},
{"a":"A4","t":24.96,"L":3,"p":-0.9},{"a":"A4","t":25.15,"L":3.3,"p":-0.9},{"a":"A4","t":25.41,"L":3.69,"p":-0.8},{"a":"A4","t":25.7,"L":4.09,"p":-1.1},{"a":"A4","t":26.07,"L":4.52,"p":-1.2},{"a":"A4","t":26.52,"L":4.95,"p":-1.3},{"a":"A4","t":27,"L":5.3,"p":-1.7},{"a":"A4","t":27.55,"L":5.58,"p":-1.8},{"a":"A4","t":28.12,"L":5.72,"p":-1.5},{"a":"A4","t":28.67,"L":5.76,"p":-1},{"a":"A4","t":29.2,"L":5.72,"p":0.2},{"a":"A4","t":29.74,"L":5.58,"p":0.4},{"a":"A4","t":30.27,"L":5.3,"p":-0.4},{"a":"A4","t":30.73,"L":4.95,"p":0.5},{"a":"A4","t":31.16,"L":4.52,"p":1.3},{"a":"A4","t":31.51,"L":4.09,"p":1},{"a":"A4","t":31.79,"L":3.69,"p":1.3},{"a":"A4","t":32.04,"L":3.3,"p":1.6},{"a":"A4","t":32.22,"L":3,"p":1.6},{"a":"A4","t":26.75,"L":5.14,"p":-1.3},{"a":"A4","t":27.27,"L":5.46,"p":-1.7},{"a":"A4","t":27.83,"L":5.66,"p":-1.8},{"a":"A4","t":28.39,"L":5.75,"p":-1.5},{"a":"A4","t":28.94,"L":5.75,"p":-1},{"a":"A4","t":29.47,"L":5.66,"p":0.2},{"a":"A4","t":30,"L":5.46,"p":0.4},{"a":"A4","t":30.5,"L":5.14,"p":-0.4},
{"a":"B4","t":26.23,"L":3,"p":-2.2},{"a":"B4","t":26.43,"L":3.3,"p":-2.5},{"a":"B4","t":26.69,"L":3.69,"p":-1.8},{"a":"B4","t":26.99,"L":4.09,"p":-1.5},{"a":"B4","t":27.36,"L":4.52,"p":-2.5},{"a":"B4","t":27.82,"L":4.95,"p":-2.2},{"a":"B4","t":28.3,"L":5.3,"p":-1.3},{"a":"B4","t":28.87,"L":5.58,"p":-1},{"a":"B4","t":29.44,"L":5.72,"p":-0.3},{"a":"B4","t":30,"L":5.76,"p":0.9},{"a":"B4","t":30.53,"L":5.72,"p":1.3},{"a":"B4","t":31.07,"L":5.58,"p":1.8},{"a":"B4","t":31.6,"L":5.3,"p":1.1},{"a":"B4","t":32.06,"L":4.95,"p":0.2},{"a":"B4","t":32.49,"L":4.52,"p":0},{"a":"B4","t":32.84,"L":4.09,"p":-0.1},{"a":"B4","t":33.12,"L":3.69,"p":0.3},{"a":"B4","t":33.37,"L":3.3,"p":0.8},{"a":"B4","t":33.55,"L":3,"p":0.8},{"a":"B4","t":28.08,"L":5.14,"p":-2.2},{"a":"B4","t":28.6,"L":5.46,"p":-1.3},{"a":"B4","t":29.16,"L":5.66,"p":-1},{"a":"B4","t":29.72,"L":5.75,"p":-0.3},{"a":"B4","t":30.27,"L":5.75,"p":0.9},{"a":"B4","t":30.8,"L":5.66,"p":1.3},{"a":"B4","t":31.33,"L":5.46,"p":1.8},{"a":"B4","t":31.83,"L":5.14,"p":1.1},
{"a":"A5","t":33.9,"L":3,"p":2.4},{"a":"A5","t":34.12,"L":3.28,"p":2.1},{"a":"A5","t":34.37,"L":3.64,"p":2.4},{"a":"A5","t":34.65,"L":4,"p":2},{"a":"A5","t":35,"L":4.4,"p":1.8},{"a":"A5","t":35.43,"L":4.79,"p":2.2},{"a":"A5","t":35.89,"L":5.12,"p":2},{"a":"A5","t":36.42,"L":5.37,"p":1.9},{"a":"A5","t":36.96,"L":5.5,"p":1.3},{"a":"A5","t":37.49,"L":5.54,"p":1},{"a":"A5","t":38.02,"L":5.5,"p":1.7},{"a":"A5","t":38.56,"L":5.37,"p":1},{"a":"A5","t":39.09,"L":5.12,"p":1.6},{"a":"A5","t":39.55,"L":4.79,"p":2.4},{"a":"A5","t":39.98,"L":4.4,"p":2.4},{"a":"A5","t":40.33,"L":4,"p":1.9},{"a":"A5","t":40.61,"L":3.64,"p":0.8},{"a":"A5","t":40.86,"L":3.28,"p":0.7},{"a":"A5","t":41.04,"L":3,"p":0.7},{"a":"A5","t":35.66,"L":4.97,"p":2.2},{"a":"A5","t":36.16,"L":5.26,"p":2},{"a":"A5","t":36.69,"L":5.45,"p":1.9},{"a":"A5","t":37.22,"L":5.53,"p":1.3},{"a":"A5","t":37.76,"L":5.53,"p":1},{"a":"A5","t":38.29,"L":5.45,"p":1.7},{"a":"A5","t":38.82,"L":5.26,"p":1},{"a":"A5","t":39.32,"L":4.97,"p":1.6},
{"a":"B5","t":35.14,"L":3,"p":1},{"a":"B5","t":35.34,"L":3.28,"p":1.8},{"a":"B5","t":35.59,"L":3.64,"p":1.6},{"a":"B5","t":35.87,"L":4,"p":1.5},{"a":"B5","t":36.22,"L":4.4,"p":1.7},{"a":"B5","t":36.65,"L":4.79,"p":1.2},{"a":"B5","t":37.11,"L":5.12,"p":0.9},{"a":"B5","t":37.64,"L":5.37,"p":0.8},{"a":"B5","t":38.18,"L":5.5,"p":1.3},{"a":"B5","t":38.71,"L":5.54,"p":1.6},{"a":"B5","t":39.24,"L":5.5,"p":2.1},{"a":"B5","t":39.78,"L":5.37,"p":1.7},{"a":"B5","t":40.31,"L":5.12,"p":1.9},{"a":"B5","t":40.77,"L":4.79,"p":2},{"a":"B5","t":41.2,"L":4.4,"p":1.3},{"a":"B5","t":41.55,"L":4,"p":0.6},{"a":"B5","t":41.83,"L":3.64,"p":0.3},{"a":"B5","t":42.08,"L":3.28,"p":0.2},{"a":"B5","t":42.26,"L":3,"p":0.2},{"a":"B5","t":36.88,"L":4.97,"p":1.2},{"a":"B5","t":37.38,"L":5.26,"p":0.9},{"a":"B5","t":37.91,"L":5.45,"p":0.8},{"a":"B5","t":38.44,"L":5.53,"p":1.3},{"a":"B5","t":38.98,"L":5.53,"p":1.6},{"a":"B5","t":39.51,"L":5.45,"p":2.1},{"a":"B5","t":40.04,"L":5.26,"p":1.7},{"a":"B5","t":40.54,"L":4.97,"p":1.9},
{"a":"A6","t":42.93,"L":3,"p":2.1},{"a":"A6","t":43.11,"L":3.28,"p":2},{"a":"A6","t":43.36,"L":3.65,"p":1.8},{"a":"A6","t":43.64,"L":4.03,"p":1.5},{"a":"A6","t":43.99,"L":4.44,"p":1},{"a":"A6","t":44.42,"L":4.84,"p":1.3},{"a":"A6","t":44.88,"L":5.18,"p":2.1},{"a":"A6","t":45.41,"L":5.44,"p":1.5},{"a":"A6","t":45.95,"L":5.57,"p":2.3},{"a":"A6","t":46.48,"L":5.61,"p":1.8},{"a":"A6","t":47.01,"L":5.57,"p":1.3},{"a":"A6","t":47.55,"L":5.44,"p":0.9},{"a":"A6","t":48.08,"L":5.18,"p":0.2},{"a":"A6","t":48.54,"L":4.84,"p":0.6},{"a":"A6","t":48.97,"L":4.44,"p":1.3},{"a":"A6","t":49.32,"L":4.03,"p":1},{"a":"A6","t":49.6,"L":3.65,"p":0.6},{"a":"A6","t":49.85,"L":3.28,"p":0.2},{"a":"A6","t":50.03,"L":3,"p":0.2},{"a":"A6","t":44.65,"L":5.02,"p":1.3},{"a":"A6","t":45.15,"L":5.32,"p":2.1},{"a":"A6","t":45.68,"L":5.52,"p":1.5},{"a":"A6","t":46.21,"L":5.6,"p":2.3},{"a":"A6","t":46.75,"L":5.6,"p":1.8},{"a":"A6","t":47.28,"L":5.52,"p":1.3},{"a":"A6","t":47.81,"L":5.32,"p":0.9},{"a":"A6","t":48.31,"L":5.02,"p":0.2},
{"a":"B6","t":44.2,"L":3,"p":1.6},{"a":"B6","t":44.38,"L":3.28,"p":1.8},{"a":"B6","t":44.63,"L":3.65,"p":1.8},{"a":"B6","t":44.91,"L":4.03,"p":1.4},{"a":"B6","t":45.26,"L":4.44,"p":1.8},{"a":"B6","t":45.69,"L":4.84,"p":2.3},{"a":"B6","t":46.15,"L":5.17,"p":2.6},{"a":"B6","t":46.68,"L":5.43,"p":1.9},{"a":"B6","t":47.22,"L":5.56,"p":1},{"a":"B6","t":47.75,"L":5.6,"p":0.6},{"a":"B6","t":48.28,"L":5.56,"p":0.1},{"a":"B6","t":48.82,"L":5.43,"p":-0.3},{"a":"B6","t":49.35,"L":5.17,"p":-0.4},{"a":"B6","t":49.81,"L":4.84,"p":-0.2},{"a":"B6","t":50.24,"L":4.44,"p":-0.2},{"a":"B6","t":50.59,"L":4.03,"p":-0.4},{"a":"B6","t":50.87,"L":3.65,"p":-0.5},{"a":"B6","t":51.12,"L":3.28,"p":-0.6},{"a":"B6","t":51.3,"L":3,"p":-0.6},{"a":"B6","t":45.92,"L":5.02,"p":2.3},{"a":"B6","t":46.42,"L":5.31,"p":2.6},{"a":"B6","t":46.95,"L":5.51,"p":1.9},{"a":"B6","t":47.48,"L":5.59,"p":1},{"a":"B6","t":48.02,"L":5.59,"p":0.6},{"a":"B6","t":48.55,"L":5.51,"p":0.1},{"a":"B6","t":49.08,"L":5.31,"p":-0.3},{"a":"B6","t":49.58,"L":5.02,"p":-0.4},
{"a":"A7","t":52.08,"L":3,"p":0.7},{"a":"A7","t":52.26,"L":3.3,"p":0.9},{"a":"A7","t":52.51,"L":3.68,"p":0.9},{"a":"A7","t":52.79,"L":4.07,"p":0.3},{"a":"A7","t":53.14,"L":4.5,"p":-0.1},{"a":"A7","t":53.57,"L":4.91,"p":-0.1},{"a":"A7","t":54.03,"L":5.26,"p":-0.3},{"a":"A7","t":54.56,"L":5.53,"p":-1.4},{"a":"A7","t":55.1,"L":5.67,"p":-1.3},{"a":"A7","t":55.63,"L":5.71,"p":-1.2},{"a":"A7","t":56.16,"L":5.67,"p":-1.1},{"a":"A7","t":56.7,"L":5.53,"p":-1.2},{"a":"A7","t":57.23,"L":5.26,"p":-1.7},{"a":"A7","t":57.69,"L":4.91,"p":-1.3},{"a":"A7","t":58.12,"L":4.5,"p":-1},{"a":"A7","t":58.47,"L":4.07,"p":-0.9},{"a":"A7","t":58.75,"L":3.68,"p":-0.9},{"a":"A7","t":59,"L":3.3,"p":0.6},{"a":"A7","t":59.18,"L":3,"p":0.6},{"a":"A7","t":53.8,"L":5.1,"p":-0.1},{"a":"A7","t":54.3,"L":5.41,"p":-0.3},{"a":"A7","t":54.83,"L":5.62,"p":-1.4},{"a":"A7","t":55.36,"L":5.7,"p":-1.3},{"a":"A7","t":55.9,"L":5.7,"p":-1.2},{"a":"A7","t":56.43,"L":5.62,"p":-1.1},{"a":"A7","t":56.96,"L":5.41,"p":-1.2},{"a":"A7","t":57.46,"L":5.1,"p":-1.7},
{"a":"B7","t":53.15,"L":3,"p":0.9},{"a":"B7","t":53.37,"L":3.29,"p":0.5},{"a":"B7","t":53.62,"L":3.66,"p":0.8},{"a":"B7","t":53.9,"L":4.03,"p":0.7},{"a":"B7","t":54.25,"L":4.45,"p":-0.1},{"a":"B7","t":54.68,"L":4.85,"p":-1.4},{"a":"B7","t":55.14,"L":5.19,"p":-1.3},{"a":"B7","t":55.67,"L":5.44,"p":-1.7},{"a":"B7","t":56.21,"L":5.58,"p":-1.1},{"a":"B7","t":56.74,"L":5.62,"p":-1.6},{"a":"B7","t":57.27,"L":5.58,"p":-0.8},{"a":"B7","t":57.81,"L":5.44,"p":-0.6},{"a":"B7","t":58.34,"L":5.19,"p":-0.1},{"a":"B7","t":58.8,"L":4.85,"p":-0.4},{"a":"B7","t":59.23,"L":4.45,"p":-0.7},{"a":"B7","t":59.58,"L":4.03,"p":-1.1},{"a":"B7","t":59.86,"L":3.66,"p":-1.2},{"a":"B7","t":60.11,"L":3.29,"p":-0.1},{"a":"B7","t":60.29,"L":3,"p":-0.1},{"a":"B7","t":54.91,"L":5.03,"p":-1.4},{"a":"B7","t":55.41,"L":5.33,"p":-1.3},{"a":"B7","t":55.94,"L":5.53,"p":-1.7},{"a":"B7","t":56.47,"L":5.61,"p":-1.1},{"a":"B7","t":57.01,"L":5.61,"p":-1.6},{"a":"B7","t":57.54,"L":5.53,"p":-0.8},{"a":"B7","t":58.07,"L":5.33,"p":-0.6},{"a":"B7","t":58.57,"L":5.03,"p":-0.1},
{"a":"A8","t":60.84,"L":3,"p":-0.3},{"a":"A8","t":61.02,"L":3.29,"p":-1.2},{"a":"A8","t":61.27,"L":3.66,"p":-1.4},{"a":"A8","t":61.55,"L":4.03,"p":-1.3},{"a":"A8","t":61.9,"L":4.45,"p":-1},{"a":"A8","t":62.33,"L":4.85,"p":-0.8},{"a":"A8","t":62.79,"L":5.19,"p":-0.3},{"a":"A8","t":63.32,"L":5.44,"p":-0.7},{"a":"A8","t":63.86,"L":5.58,"p":-1.3},{"a":"A8","t":64.39,"L":5.62,"p":-1.1},{"a":"A8","t":64.92,"L":5.58,"p":-0.9},{"a":"A8","t":65.46,"L":5.44,"p":0.3},{"a":"A8","t":65.99,"L":5.19,"p":0.3},{"a":"A8","t":66.45,"L":4.85,"p":-0.3},{"a":"A8","t":66.88,"L":4.45,"p":-0.4},{"a":"A8","t":67.23,"L":4.03,"p":-0.2},{"a":"A8","t":67.51,"L":3.66,"p":-0.3},{"a":"A8","t":67.76,"L":3.29,"p":-0.5},{"a":"A8","t":67.94,"L":3,"p":-0.5},{"a":"A8","t":62.56,"L":5.03,"p":-0.8},{"a":"A8","t":63.06,"L":5.33,"p":-0.3},{"a":"A8","t":63.59,"L":5.53,"p":-0.7},{"a":"A8","t":64.12,"L":5.61,"p":-1.3},{"a":"A8","t":64.66,"L":5.61,"p":-1.1},{"a":"A8","t":65.19,"L":5.53,"p":-0.9},{"a":"A8","t":65.72,"L":5.33,"p":0.3},{"a":"A8","t":66.22,"L":5.03,"p":0.3},
{"a":"B8","t":62.01,"L":3,"p":-0.2},{"a":"B8","t":62.19,"L":3.28,"p":-0.9},{"a":"B8","t":62.44,"L":3.65,"p":-0.8},{"a":"B8","t":62.72,"L":4.03,"p":-0.5},{"a":"B8","t":63.07,"L":4.44,"p":-0.4},{"a":"B8","t":63.5,"L":4.84,"p":-1},{"a":"B8","t":63.96,"L":5.17,"p":-1.8},{"a":"B8","t":64.49,"L":5.43,"p":-1.5},{"a":"B8","t":65.03,"L":5.56,"p":-1.2},{"a":"B8","t":65.56,"L":5.6,"p":-0.2},{"a":"B8","t":66.09,"L":5.56,"p":-1.4},{"a":"B8","t":66.63,"L":5.43,"p":-0.9},{"a":"B8","t":67.16,"L":5.17,"p":-0.2},{"a":"B8","t":67.62,"L":4.84,"p":0},{"a":"B8","t":68.05,"L":4.44,"p":-0.3},{"a":"B8","t":68.4,"L":4.03,"p":-0.2},{"a":"B8","t":68.68,"L":3.65,"p":-0.4},{"a":"B8","t":68.93,"L":3.28,"p":-0.6},{"a":"B8","t":69.11,"L":3,"p":-0.6},{"a":"B8","t":63.73,"L":5.02,"p":-1},{"a":"B8","t":64.23,"L":5.31,"p":-1.8},{"a":"B8","t":64.76,"L":5.51,"p":-1.5},{"a":"B8","t":65.29,"L":5.59,"p":-1.2},{"a":"B8","t":65.83,"L":5.59,"p":-0.2},{"a":"B8","t":66.36,"L":5.51,"p":-1.4},{"a":"B8","t":66.89,"L":5.31,"p":-0.9},{"a":"B8","t":67.39,"L":5.02,"p":-0.2},
{"a":"A9","t":70.05,"L":3,"p":-0.8},{"a":"A9","t":70.43,"L":3.5,"p":-0.7},{"a":"A9","t":70.77,"L":4,"p":-0.3},{"a":"A9","t":71.16,"L":4.5,"p":-1.2},{"a":"A9","t":71.83,"L":5,"p":-0.9},{"a":"A9","t":72,"L":5.13,"p":-0.9},
{"a":"B9","t":71.05,"L":3,"p":-0.3},{"a":"B9","t":71.38,"L":3.5,"p":0.8},{"a":"B9","t":71.7,"L":4,"p":2.4},{"a":"B9","t":72,"L":4.23,"p":3}
]},
"layer":[
{"data":{"name":"cells"},"mark":{"type":"rect","strokeWidth":0.7},"encoding":{"x":{"field":"h","type":"quantitative","bin":{"binned":true,"step":1},"scale":{"domain":[0,72],"range":[125,1428],"nice":false,"zero":false},"axis":null},"y":{"field":"L","type":"quantitative","scale":{"domain":[2.97,8],"range":[508,70],"nice":false,"zero":false},"axis":null},"y2":{"field":"U"},"stroke":{"field":"b","type":"quantitative","scale":{"type":"log","domain":[8.6,12.8,19.1,28.5,42.4,63.2,94.2,140.3,209],"range":["#000080","#0000ff","#0080ff","#00ffff","#80ff80","#ffff00","#ff8000","#ff0000","#800000"],"interpolate":"rgb"},"legend":null},"color":{"field":"b","type":"quantitative","scale":{"type":"log","domain":[8.6,12.8,19.1,28.5,42.4,63.2,94.2,140.3,209],"range":["#000080","#0000ff","#0080ff","#00ffff","#80ff80","#ffff00","#ff8000","#ff0000","#800000"],"interpolate":"rgb"},"legend":{"title":null,"orient":"none","legendX":1445,"legendY":70,"gradientLength":438,"gradientThickness":18,"gradientStrokeColor":"#222","gradientStrokeWidth":1.5,"values":[10,100],"labelFont":"Liberation Serif","labelFontSize":42,"labelColor":"#111","labelOffset":10,"labelExpr":"''+datum.value","encode":{"labels":{"update":{"baseline":{"value":"middle"}}}}}}}},
{"data":{"values":[{"h":0,"h2":0.42,"L":2.97,"U":8},{"h":71.6,"h2":72,"L":2.97,"U":8}]},"mark":{"type":"rect","color":"#ffffff"},"encoding":{"x":{"field":"h","type":"quantitative","scale":{"domain":[0,72],"range":[125,1428],"nice":false,"zero":false},"axis":null},"x2":{"field":"h2"},"y":{"field":"L","type":"quantitative","scale":{"domain":[2.97,8],"range":[508,70],"nice":false,"zero":false},"axis":null},"y2":{"field":"U"}}},
{"data":{"values":[{"v":24}]},"mark":{"type":"point","opacity":0},"encoding":{"x":{"field":"v","type":"quantitative","scale":{"domain":[0,72],"range":[122,1420],"nice":false,"zero":false},"axis":{"title":null,"orient":"top","zindex":0,"grid":true,"gridColor":"#222","gridDash":[1,4],"gridWidth":1.2,"values":[24,48,72]}},"y":{"field":"v","type":"quantitative","scale":{"domain":[3,6.5],"range":[1056.5,587],"nice":false,"zero":false},"axis":{"title":null,"orient":"left","zindex":0,"grid":true,"gridColor":"#222","gridDash":[1,4],"gridWidth":1.2,"values":[3.5,4,4.5,5,5.5,6,6.5]}}}},
{"data":{"values":[{"v":24}]},"mark":{"type":"point","opacity":0},"encoding":{"x":{"field":"v","type":"quantitative","scale":{"domain":[0,72],"range":[122,1420],"nice":false,"zero":false},"axis":{"title":null,"orient":"bottom","zindex":1,"offset":-43.5,"domain":true,"domainColor":"#000","domainWidth":2.5,"labels":true,"labelFlush":false,"values":[0,24,48,72],"labelFont":"DejaVu Sans","labelFontWeight":"bold","labelFontSize":21,"labelColor":"#111","labelPadding":2,"labelExpr":"['16/03','17/03','18/03','19/03'][datum.value/24]"}},"y":{"field":"v","type":"quantitative","scale":{"domain":[3,6.5],"range":[1056.5,587],"nice":false,"zero":false},"axis":{"title":null,"orient":"left","zindex":1,"offset":-122,"domain":true,"domainColor":"#000","domainWidth":2.5,"labels":true,"labelFlush":false,"values":[3,3.5,4,4.5,5,5.5,6,6.5],"labelFont":"DejaVu Sans","labelFontWeight":"bold","labelFontSize":21,"labelColor":"#111","labelPadding":5,"labelExpr":"''+datum.value"}}}},
{"data":{"values":[{"v":24}]},"mark":{"type":"point","opacity":0},"encoding":{"x":{"field":"v","type":"quantitative","scale":{"domain":[0,72],"range":[122,1420],"nice":false,"zero":false},"axis":{"title":null,"orient":"top","zindex":1,"offset":-1056.5,"ticks":true,"tickSize":10,"tickWidth":2,"values":[24,48,72]}},"y":{"field":"v","type":"quantitative","scale":{"domain":[3,6.5],"range":[1056.5,587],"nice":false,"zero":false},"axis":{"title":null,"orient":"right","zindex":1,"offset":-1447,"ticks":true,"tickSize":14,"tickWidth":2,"values":[3.5,4,4.5,5,5.5,6,6.5]}}}},
{"data":{"name":"arcs"},"transform":[{"window":[{"op":"lead","field":"t","as":"t2"},{"op":"lead","field":"L","as":"L2"}],"groupby":["a"],"sort":[{"field":"t","order":"ascending"}]},{"filter":"isValid(datum.t2)"}],"mark":{"type":"rule","strokeWidth":5,"strokeCap":"round"},"encoding":{"x":{"field":"t","type":"quantitative","scale":{"domain":[0,72],"range":[122,1420],"nice":false,"zero":false},"axis":null},"x2":{"field":"t2"},"y":{"field":"L","type":"quantitative","scale":{"domain":[3,6.5],"range":[1056.5,587],"nice":false,"zero":false},"axis":null},"y2":{"field":"L2"},"color":{"field":"p","type":"quantitative","scale":{"domain":[-4,-3.05,-2.1,-1.15,-0.2,0.75,1.7,2.65,3.6],"range":["#000080","#0000ff","#0080ff","#00ffff","#80ff80","#ffff00","#ff8000","#ff0000","#800000"],"interpolate":"rgb"},"legend":{"title":null,"orient":"none","legendX":1446,"legendY":588,"gradientLength":470,"gradientThickness":37,"gradientStrokeColor":"#111","gradientStrokeWidth":1.5,"values":[-4,-3,-2,-1,0,1,2,3],"labelFont":"DejaVu Sans","labelFontWeight":"bold","labelFontSize":19,"labelColor":"#111","labelOffset":5,"labelExpr":"''+datum.value","encode":{"labels":{"update":{"baseline":{"value":"middle"}}}}}}}},
{"data":{"values":[{"v":10}]},"mark":{"type":"point","opacity":0},"encoding":{"y":{"field":"v","type":"quantitative","scale":{"type":"log","domain":[8.6,209],"range":[508,70],"nice":false},"axis":{"title":null,"orient":"right","zindex":1,"offset":-124,"ticks":true,"tickSize":18,"tickWidth":2,"tickColor":"#222","values":[100]}}}},
{"data":{"values":[{"v":0}]},"mark":{"type":"point","opacity":0},"encoding":{"y":{"field":"v","type":"quantitative","scale":{"domain":[-4,3.6],"range":[1058,588],"nice":false,"zero":false},"axis":{"title":null,"orient":"right","zindex":1,"offset":-123,"ticks":true,"tickSize":9,"tickWidth":2,"values":[-3,-2,-1,0,1,2,3]}}}},
{"data":{"values":[{"v":0}]},"mark":{"type":"point","opacity":0},"encoding":{"y":{"field":"v","type":"quantitative","scale":{"domain":[-4,3.6],"range":[1058,588],"nice":false,"zero":false},"axis":{"title":null,"orient":"left","zindex":1,"offset":-1483,"ticks":true,"tickSize":9,"tickWidth":2,"values":[-3,-2,-1,0,1,2,3]}}}},
{"data":{"values":[{"v":6}]},"mark":{"type":"point","opacity":0},"encoding":{"x":{"field":"v","type":"quantitative","scale":{"domain":[0,72],"range":[125,1428],"nice":false,"zero":false},"axis":{"title":null,"orient":"top","zindex":1,"offset":-508,"domain":true,"domainColor":"#444","domainWidth":2.5,"ticks":true,"tickSize":6,"tickWidth":1.5,"values":[6,12,18,24,30,36,42,48,54,60,66]}},"y":{"field":"v","type":"quantitative","scale":{"domain":[3,8],"range":[505.4,70],"nice":false,"zero":false},"axis":{"title":null,"orient":"left","zindex":1,"offset":-124,"labels":true,"values":[3,4,5,6,7,8],"labelFont":"Liberation Serif","labelFontSize":42,"labelColor":"#111","labelPadding":10,"labelFlush":true,"labelFlushOffset":-6,"labelOverlap":false}}}},
{"data":{"values":[{"v":6}]},"mark":{"type":"point","opacity":0},"encoding":{"x":{"field":"v","type":"quantitative","scale":{"domain":[0,72],"range":[125,1428],"nice":false,"zero":false},"axis":{"title":null,"orient":"bottom","zindex":1,"offset":-1031,"domain":true,"domainColor":"#444","domainWidth":2.5,"ticks":true,"tickSize":5,"tickWidth":1.5,"values":[6,12,18,24,30,36,42,48,54,60,66]}},"y":{"field":"v","type":"quantitative","scale":{"domain":[2.97,8],"range":[508,70],"nice":false,"zero":false},"axis":{"title":null,"orient":"right","zindex":1,"offset":-1445,"domain":true,"domainColor":"#444","domainWidth":2.5,"ticks":true,"tickSize":13,"tickWidth":2,"values":[3,3.1,3.2,3.3,3.4,3.5,3.6,3.7,3.8,3.9,4,4.1,4.2,4.3,4.4,4.5,4.6,4.7,4.8,4.9,5,5.1,5.2,5.3,5.4,5.5,5.6,5.7,5.8,5.9,6,6.1,6.2,6.3,6.4,6.5,6.6,6.7,6.8,6.9,7,7.1,7.2,7.3,7.4,7.5,7.6,7.7,7.8,7.9,8]}}}},
{"data":{"values":[{"v":6}]},"mark":{"type":"point","opacity":0},"encoding":{"y":{"field":"v","type":"quantitative","scale":{"domain":[2.97,8],"range":[508,70],"nice":false,"zero":false},"axis":{"title":null,"orient":"right","zindex":1,"offset":-1445,"ticks":true,"tickSize":19,"tickWidth":2,"values":[3,4,5,6,7,8]}}}},
{"data":{"values":[{"v":6}]},"mark":{"type":"point","opacity":0},"encoding":{"y":{"field":"v","type":"quantitative","scale":{"domain":[2.97,8],"range":[508,70],"nice":false,"zero":false},"axis":{"title":null,"orient":"left","zindex":1,"offset":-1429,"domain":true,"domainColor":"#444","domainWidth":2.5,"ticks":true,"tickSize":13,"tickWidth":2,"values":[3,3.1,3.2,3.3,3.4,3.5,3.6,3.7,3.8,3.9,4,4.1,4.2,4.3,4.4,4.5,4.6,4.7,4.8,4.9,5,5.1,5.2,5.3,5.4,5.5,5.6,5.7,5.8,5.9,6,6.1,6.2,6.3,6.4,6.5,6.6,6.7,6.8,6.9,7,7.1,7.2,7.3,7.4,7.5,7.6,7.7,7.8,7.9,8]}}}},
{"data":{"values":[{"v":6}]},"mark":{"type":"point","opacity":0},"encoding":{"y":{"field":"v","type":"quantitative","scale":{"domain":[2.97,8],"range":[508,70],"nice":false,"zero":false},"axis":{"title":null,"orient":"left","zindex":1,"offset":-1429,"ticks":true,"tickSize":19,"tickWidth":2,"values":[3,4,5,6,7,8]}}}},
{"data":{"values":[{"event":"SSC","t":31.1,"top":10.24,"bottom":3.18},{"event":"Recovery Phase","t":48.7,"top":10.38,"bottom":3.11}]},"mark":{"type":"rule","color":"#808080","strokeWidth":5.5,"strokeDash":[24,18]},"encoding":{"x":{"field":"t","type":"quantitative","scale":{"domain":[0,72],"range":[122,1420],"nice":false,"zero":false},"axis":null},"y":{"field":"top","type":"quantitative","scale":{"domain":[3,6.5],"range":[1056.5,587],"nice":false,"zero":false},"axis":null},"y2":{"field":"bottom"}}},
{"data":{"values":[{"h":25.47,"L":8.494,"label":"SSC"}]},"mark":{"type":"text","font":"Lato","fontWeight":"bold","fontSize":41,"color":"#2f2e1e","align":"center","baseline":"middle"},"encoding":{"x":{"field":"h","type":"quantitative","scale":{"domain":[0,72],"range":[125,1428],"nice":false,"zero":false},"axis":null},"y":{"field":"L","type":"quantitative","scale":{"domain":[2.97,8],"range":[508,70],"nice":false,"zero":false},"axis":null},"text":{"field":"label"}}},
{"data":{"values":[{"h":54.65,"L":8.494,"label":"Recovery Phase"}]},"mark":{"type":"text","font":"Lato","fontWeight":"bold","fontSize":44,"color":"#2f2e1e","align":"center","baseline":"middle"},"encoding":{"x":{"field":"h","type":"quantitative","scale":{"domain":[0,72],"range":[125,1428],"nice":false,"zero":false},"axis":null},"y":{"field":"L","type":"quantitative","scale":{"domain":[2.97,8],"range":[508,70],"nice":false,"zero":false},"axis":null},"text":{"field":"label"}}},
{"data":{"values":[{"h":35.48,"L":8.207,"label":"Chorus Wave Power"}]},"mark":{"type":"text","font":"Lato","fontWeight":"bold","fontSize":24.5,"color":"#333333","align":"center","baseline":"middle"},"encoding":{"x":{"field":"h","type":"quantitative","scale":{"domain":[0,72],"range":[125,1428],"nice":false,"zero":false},"axis":null},"y":{"field":"L","type":"quantitative","scale":{"domain":[2.97,8],"range":[508,70],"nice":false,"zero":false},"axis":null},"text":{"field":"label"}}},
{"data":{"values":[{"h":35.64,"L":2.27,"label":"RBSP Pc5 Power"},{"h":35.59,"L":-3.69,"label":"Date of 2013"}]},"mark":{"type":"text","font":"DejaVu Sans","fontWeight":"bold","fontSize":22,"color":"#222222","align":"center","baseline":"middle"},"encoding":{"x":{"field":"h","type":"quantitative","scale":{"domain":[0,72],"range":[125,1428],"nice":false,"zero":false},"axis":null},"y":{"field":"L","type":"quantitative","scale":{"domain":[2.97,8],"range":[508,70],"nice":false,"zero":false},"axis":null},"text":{"field":"label"}}},
{"data":{"values":[{"h":-3.65,"L":-0.636,"label":"L*"}]},"mark":{"type":"text","font":"DejaVu Sans","fontWeight":"bold","fontSize":17,"color":"#111111","angle":270,"align":"center","baseline":"middle"},"encoding":{"x":{"field":"h","type":"quantitative","scale":{"domain":[0,72],"range":[125,1428],"nice":false,"zero":false},"axis":null},"y":{"field":"L","type":"quantitative","scale":{"domain":[2.97,8],"range":[508,70],"nice":false,"zero":false},"axis":null},"text":{"field":"label"}}},
{"data":{"values":[{"h":-5.36,"L":5.52,"label":"MLT ave"},{"h":-3.48,"L":5.497,"label":"L-shell"}]},"mark":{"type":"text","font":"DejaVu Serif","fontSize":40,"color":"#111111","angle":270,"align":"center","baseline":"middle"},"encoding":{"x":{"field":"h","type":"quantitative","scale":{"domain":[0,72],"range":[125,1428],"nice":false,"zero":false},"axis":null},"y":{"field":"L","type":"quantitative","scale":{"domain":[2.97,8],"range":[508,70],"nice":false,"zero":false},"axis":null},"text":{"field":"label"}}},
{"data":{"values":[{"h":78.19,"L":-0.66,"label":"log₁₀Power (nT²/Hz)"}]},"mark":{"type":"text","font":"Liberation Sans","fontWeight":"bold","fontSize":18,"color":"#111111","angle":270,"align":"center","baseline":"middle"},"encoding":{"x":{"field":"h","type":"quantitative","scale":{"domain":[0,72],"range":[125,1428],"nice":false,"zero":false},"axis":null},"y":{"field":"L","type":"quantitative","scale":{"domain":[2.97,8],"range":[508,70],"nice":false,"zero":false},"axis":null},"text":{"field":"label"}}},
{"data":{"values":[{"h":78.4,"L":4.44,"label":"B"}]},"mark":{"type":"text","font":"DejaVu Serif","fontSize":40,"color":"#111111","angle":270,"align":"center","baseline":"middle"},"encoding":{"x":{"field":"h","type":"quantitative","scale":{"domain":[0,72],"range":[125,1428],"nice":false,"zero":false},"axis":null},"y":{"field":"L","type":"quantitative","scale":{"domain":[2.97,8],"range":[508,70],"nice":false,"zero":false},"axis":null},"text":{"field":"label"}}},
{"data":{"values":[{"h":79.3,"L":4.76,"label":"w"}]},"mark":{"type":"text","font":"DejaVu Serif","fontSize":20,"color":"#111111","angle":270,"align":"center","baseline":"middle"},"encoding":{"x":{"field":"h","type":"quantitative","scale":{"domain":[0,72],"range":[125,1428],"nice":false,"zero":false},"axis":null},"y":{"field":"L","type":"quantitative","scale":{"domain":[2.97,8],"range":[508,70],"nice":false,"zero":false},"axis":null},"text":{"field":"label"}}},
{"data":{"values":[{"h":78.4,"L":6.05,"label":"[pT]"}]},"mark":{"type":"text","font":"DejaVu Serif","fontSize":42,"color":"#111111","angle":270,"align":"center","baseline":"middle"},"encoding":{"x":{"field":"h","type":"quantitative","scale":{"domain":[0,72],"range":[125,1428],"nice":false,"zero":false},"axis":null},"y":{"field":"L","type":"quantitative","scale":{"domain":[2.97,8],"range":[508,70],"nice":false,"zero":false},"axis":null},"text":{"field":"label"}}}
]}
